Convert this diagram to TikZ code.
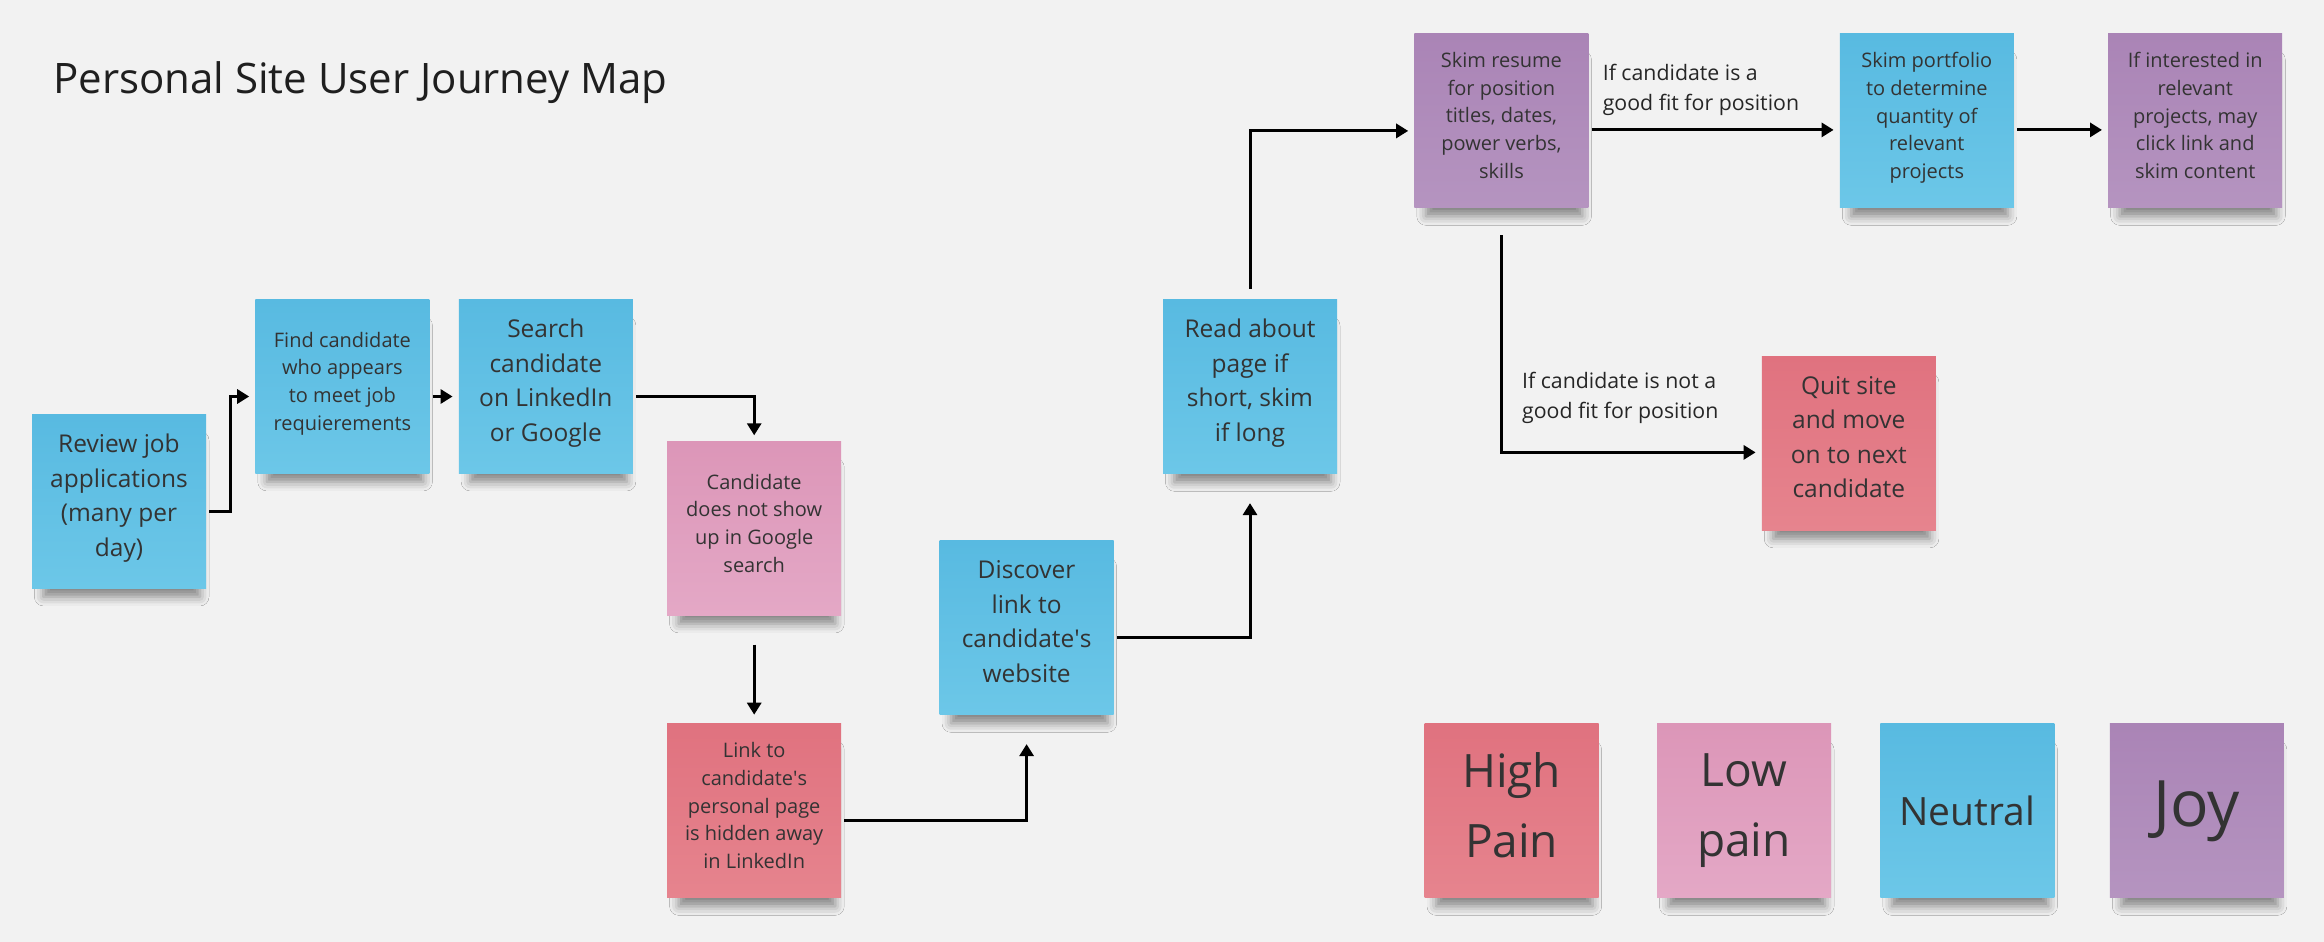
\documentclass[tikz,border=0pt]{standalone}
\usepackage{fontspec}
\setmainfont{Open Sans}
\usetikzlibrary{arrows.meta, positioning, shadows.blur}

\definecolor{bgcol}{RGB}{242,242,242}
\definecolor{inkcol}{RGB}{51,51,51}
\definecolor{blueA}{RGB}{88,186,225}
\definecolor{blueB}{RGB}{108,199,232}
\definecolor{pinkA}{RGB}{220,150,184}
\definecolor{pinkB}{RGB}{228,168,198}
\definecolor{redA}{RGB}{224,114,127}
\definecolor{redB}{RGB}{230,132,142}
\definecolor{purpA}{RGB}{170,132,182}
\definecolor{purpB}{RGB}{181,148,192}

\begin{document}
\begin{tikzpicture}[
  node distance=49pt and 49pt,
  note/.style={rectangle, minimum width=174pt, minimum height=174pt,
               align=center, inner sep=4pt, text=inkcol,
               blur shadow={shadow xshift=3pt, shadow yshift=-19pt,
                            shadow scale=0.9, shadow blur radius=10pt,
                            shadow opacity=45}},
  neutral/.style={note, top color=blueA, bottom color=blueB},
  lowpain/.style={note, top color=pinkA, bottom color=pinkB},
  highpain/.style={note, top color=redA, bottom color=redB},
  joy/.style={note, top color=purpA, bottom color=purpB},
  smalltxt/.style={font=\fontsize{20}{27.7}\selectfont, text depth=11pt},
  bigtxt/.style={font=\fontsize{24.5}{34.5}\selectfont, text depth=13pt},
  cond/.style={font=\fontsize{21.3}{30}\selectfont, align=left,
               inner sep=0pt, text=black!85},
  arrow/.style={-{Triangle[length=12pt, width=14pt]}, line width=3pt,
                shorten <=3pt, shorten >=6pt},
]
  \path[fill=bgcol, use as bounding box] (0,0) rectangle (2324pt,-942pt);
  \node[anchor=base west, inner sep=0pt, text=black!88,
        font=\fontsize{42}{50}\selectfont] (title) at (53pt,-93pt)
        {Personal Site User Journey Map};

  % journey
  \node[neutral, bigtxt] (review) at (119pt,-501.5pt)
        {Review job\\applications\\(many per\\day)};
  \node[neutral, smalltxt, right=49pt of review, yshift=115pt] (find)
        {Find candidate\\who appears\\to meet job\\requierements};
  \draw[arrow] ([yshift=-10pt]review.east) -- ++(24pt,0) |- ([yshift=-10pt]find.west);
  \node[neutral, bigtxt, right=29pt of find] (search)
        {Search\\candidate\\on LinkedIn\\or Google};
  \draw[arrow] ([yshift=-10pt]find.east) -- ([yshift=-10pt]search.west);
  \node[lowpain, smalltxt, right=34pt of search, yshift=-142pt] (nogoogle)
        {Candidate\\does not show\\up in Google\\search};
  \draw[arrow] ([yshift=-10pt]search.east) -| (nogoogle.north);
  \node[highpain, smalltxt, below=108pt of nogoogle] (hidden)
        {Link to\\candidate\textquotesingle s\\personal page\\is hidden away\\in LinkedIn};
  \draw[arrow] ([yshift=-26pt]nogoogle.south) -- ([yshift=3pt]hidden.north);
  \node[neutral, bigtxt, right=98pt of hidden, yshift=183pt] (discover)
        {Discover\\link to\\candidate\textquotesingle s\\website};
  \draw[arrow] ([yshift=-10pt]hidden.east) -| ([yshift=-23pt]discover.south);
  \node[neutral, bigtxt, right=49pt of discover, yshift=241pt] (read)
        {Read about\\page if\\short, skim\\if long};
  \draw[arrow] ([yshift=-10pt]discover.east) -| ([yshift=-23pt]read.south);
  \node[joy, smalltxt, right=77pt of read, yshift=266pt] (resume)
        {Skim resume\\for position\\titles, dates,\\power verbs,\\skills};
  \draw[arrow] ([yshift=8pt]read.north) |- ([yshift=-10pt]resume.west);

  % good fit / bad fit
  \node[neutral, smalltxt, right=251pt of resume] (portfolio)
        {Skim portfolio\\to determine\\quantity of\\relevant\\projects};
  \draw[arrow] ([yshift=-9pt]resume.east) -- ([yshift=-9pt]portfolio.west);
  \node[cond, above right=5.5pt and 14pt of resume.east] (goodfit)
        {If candidate is a\\good fit for position};
  \node[joy, smalltxt, right=94pt of portfolio] (interest)
        {If interested in\\relevant\\projects, may\\click link and\\skim content};
  \draw[arrow] ([yshift=-9pt]portfolio.east) -- ([yshift=-9pt]interest.west);
  \node[highpain, bigtxt, right=173pt of resume, yshift=-322.5pt] (quit)
        {Quit site\\and move\\on to next\\candidate};
  \draw[arrow] ([yshift=-24pt]resume.south) |- ([yshift=-9pt]quit.west);
  \node[cond, above left=20pt and 43pt of quit.west] (badfit)
        {If candidate is not a\\good fit for position};

  % legend
  \node[highpain, font=\fontsize{46}{70}\selectfont, right=583pt of hidden] (high)
        {High\\Pain\vphantom{p}};
  \node[lowpain, font=\fontsize{46}{70}\selectfont, right=58pt of high] (low)
        {Low\\pain};
  \node[neutral, font=\fontsize{39}{46}\selectfont, right=49pt of low] (neut)
        {Neutral};
  \node[joy, font=\fontsize{64}{70}\selectfont, right=55pt of neut] (joyful)
        {Joy};
\end{tikzpicture}
\end{document}
